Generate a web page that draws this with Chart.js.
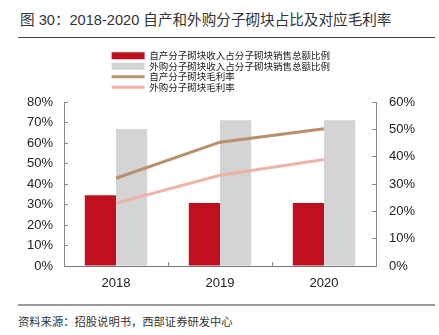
<!DOCTYPE html>
<html><head><meta charset="utf-8">
<script src="https://cdn.jsdelivr.net/npm/chart.js@4/dist/chart.umd.min.js"></script>
<style>
html,body{margin:0;padding:0;background:#fff;width:439px;height:335px;overflow:hidden;}
#title{position:absolute;left:20px;top:8px;font-size:14.6px;font-family:"Liberation Sans","Noto Sans CJK SC",sans-serif;color:#333;white-space:nowrap;}
#tline{position:absolute;left:18px;top:37px;width:417px;height:1px;background:#444;}
#wrap{position:absolute;left:0;top:44px;width:439px;height:252px;}
#fline{position:absolute;left:18px;top:304px;width:417px;height:2px;background:#999;}
#foot{position:absolute;left:18px;top:313px;font-size:11.3px;font-family:"Noto Sans CJK SC",sans-serif;color:#333;white-space:nowrap;}
</style>
</head><body>
<div id="title">图 30：2018-2020 自产和外购分子砌块占比及对应毛利率</div>
<div id="tline"></div>
<div id="wrap"><canvas id="c" width="439" height="252"></canvas></div>
<div id="fline"></div>
<div id="foot">资料来源：招股说明书，西部证券研发中心</div>
<script>
const years = ['2018', '2019', '2020'];
const seriesNames = ['自产分子砌块收入占分子砌块销售总额比例', '外购分子砌块收入占分子砌块销售总额比例', '自产分子砌块毛利率', '外购分子砌块毛利率'];
const selfShare = [34.5, 30.7, 30.7];
const buyShare = [66.8, 71.1, 71.1];
const selfMargin = [32.1, 45.3, 50.2];
const buyMargin = [23.0, 33.2, 39.0];
const leftMax = 80, rightMax = 60, tickStep = 10;

const tickFont = {family: '"Liberation Sans", Arial, sans-serif', size: 13};
const tickColor = '#222';
const pct = v => v + '%';

new Chart(document.getElementById('c'), {
  type: 'bar',
  data: {
    labels: years,
    datasets: [
      {type: 'bar', label: seriesNames[0], data: selfShare, backgroundColor: '#C00F1E', yAxisID: 'y', order: 2, pointStyle: 'rect', categoryPercentage: 0.6, barPercentage: 1},
      {type: 'bar', label: seriesNames[1], data: buyShare, backgroundColor: '#D4D4D4', yAxisID: 'y', order: 2, pointStyle: 'rect', categoryPercentage: 0.6, barPercentage: 1},
      {type: 'line', label: seriesNames[2], data: selfMargin, borderColor: '#B8916C', backgroundColor: '#B8916C', borderWidth: 3, pointRadius: 0, pointStyle: 'line', yAxisID: 'y1', order: 1},
      {type: 'line', label: seriesNames[3], data: buyMargin, borderColor: '#EFB2A8', backgroundColor: '#EFB2A8', borderWidth: 3, pointRadius: 0, pointStyle: 'line', yAxisID: 'y1', order: 1}
    ]
  },
  options: {
    responsive: false,
    animation: false,
    devicePixelRatio: 1,
    layout: {padding: {left: 12, right: 0, top: 6, bottom: 0}},
    plugins: {
      tooltip: {enabled: false},
      legend: {
        position: 'top',
        labels: {
          usePointStyle: true,
          pointStyleWidth: 33,
          boxHeight: 7,
          padding: 1,
          color: '#222',
          font: {family: '"Noto Sans CJK SC", sans-serif', size: 9.5},
          sort: (a, b) => a.datasetIndex - b.datasetIndex,
          generateLabels(chart) {
            const items = Chart.defaults.plugins.legend.labels.generateLabels(chart);
            items.forEach(it => { it.text = it.text.padEnd(20, '\u3000'); });
            return items;
          }
        }
      }
    },
    scales: {
      x: {
        grid: {display: true, drawOnChartArea: false, color: '#888', tickLength: -4, offset: true},
        border: {color: '#777'},
        ticks: {padding: 14, font: tickFont, color: tickColor},
        afterFit: s => { s.height = 30; }
      },
      y: {
        position: 'left', min: 0, max: leftMax,
        grid: {display: true, drawOnChartArea: false, color: '#888', tickLength: -4},
        border: {color: '#888'},
        ticks: {stepSize: tickStep, callback: pct, padding: 15, font: tickFont, color: tickColor},
        afterFit: s => { s.width = 52; }
      },
      y1: {
        position: 'right', min: 0, max: rightMax,
        grid: {display: true, drawOnChartArea: false, color: '#888', tickLength: -4},
        border: {color: '#888'},
        ticks: {stepSize: tickStep, callback: pct, padding: 17, font: tickFont, color: tickColor},
        afterFit: s => { s.width = 63; }
      }
    }
  }
});
</script>
</body></html>
